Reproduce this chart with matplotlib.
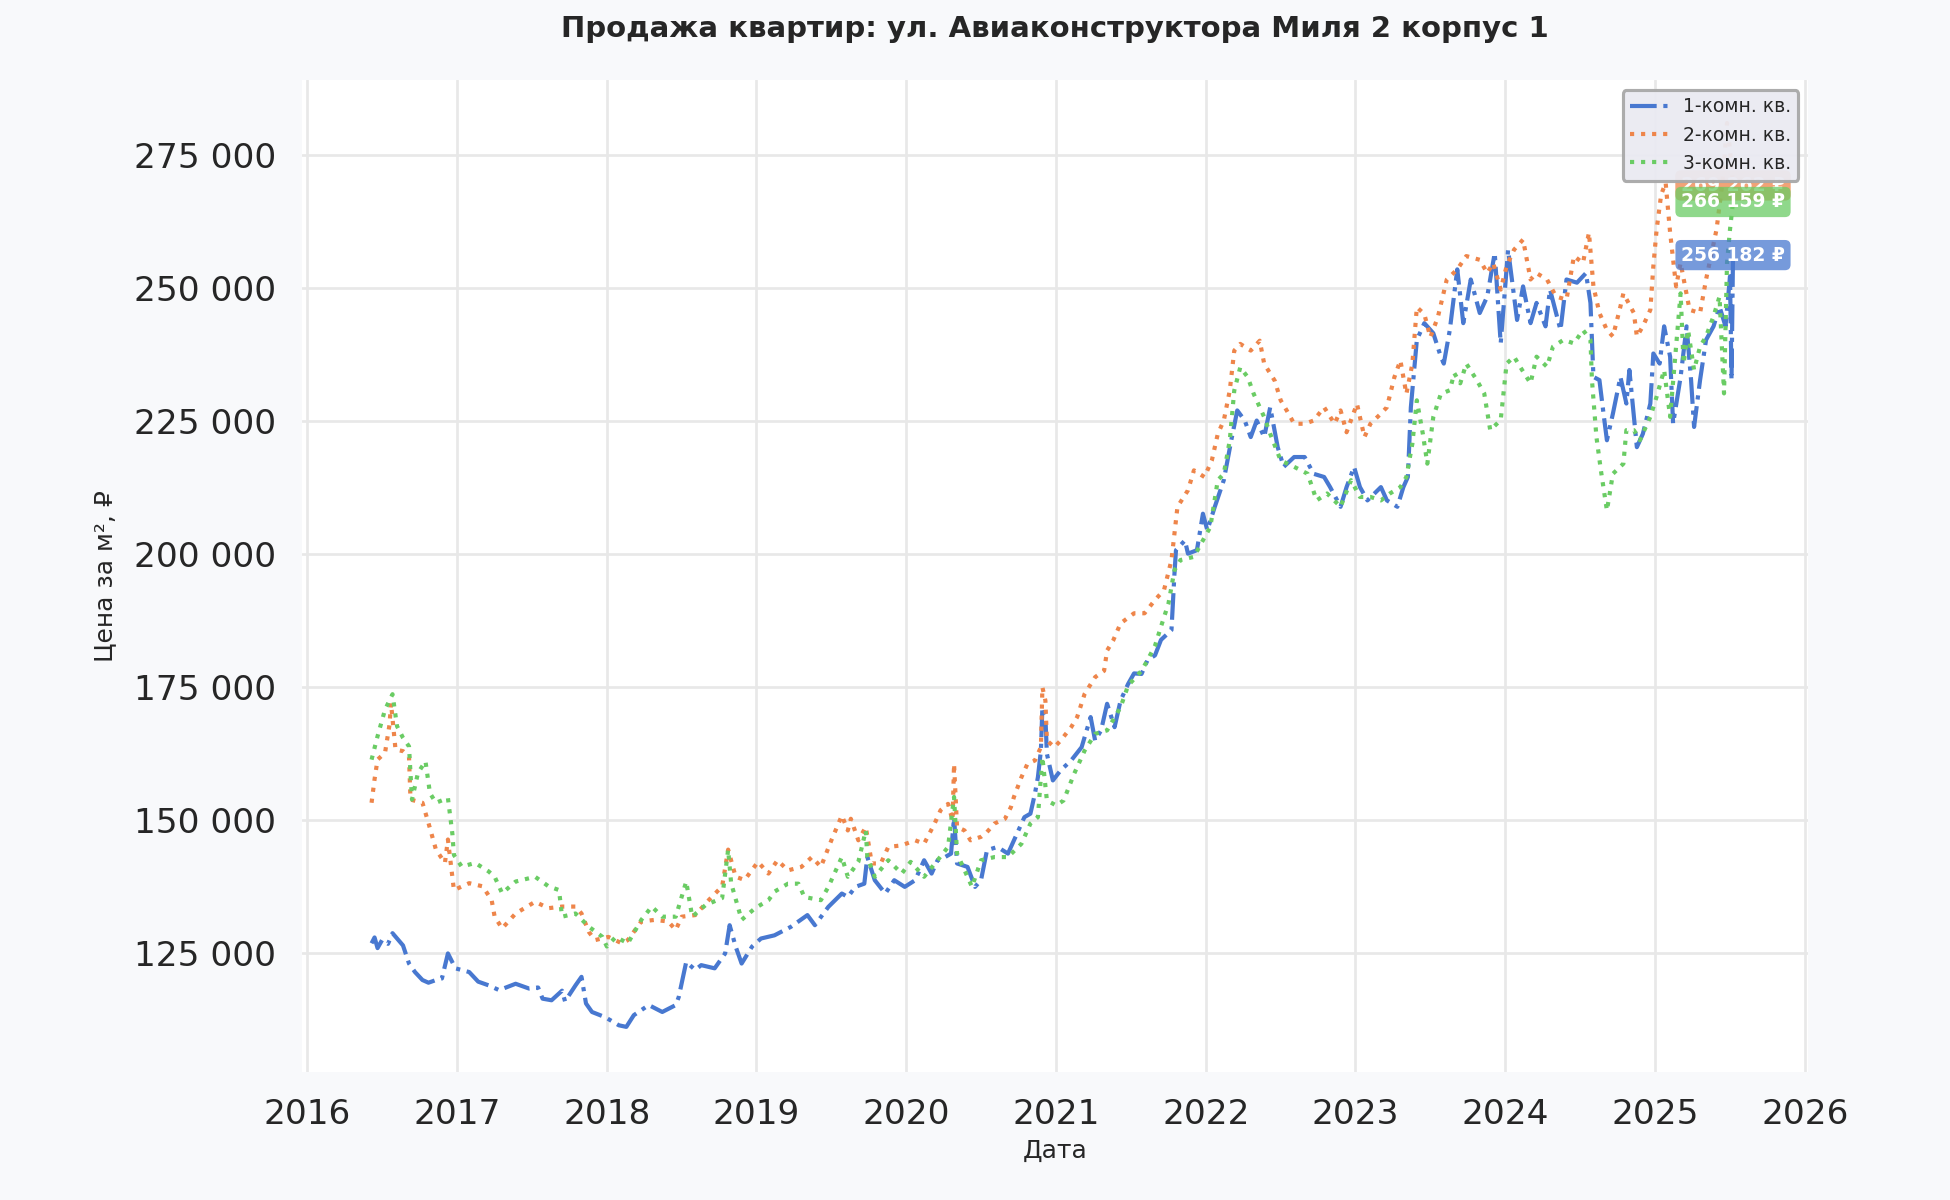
import matplotlib
matplotlib.use("Agg")
import matplotlib.pyplot as plt
import matplotlib.dates as mdates
from matplotlib.ticker import FuncFormatter, MultipleLocator
import pandas as pd
import seaborn as sns

# Даты в виде десятичного года, цены за м2 в тысячах рублей
years_1k = [
    2016.43, 2016.45, 2016.47, 2016.50, 2016.54, 2016.57, 2016.61, 2016.64, 2016.68, 2016.72,
    2016.77, 2016.81, 2016.86, 2016.90, 2016.94, 2016.99, 2017.08, 2017.14, 2017.21, 2017.28,
    2017.39, 2017.48, 2017.54, 2017.57, 2017.63, 2017.70, 2017.72, 2017.79, 2017.83, 2017.86,
    2017.90, 2017.99, 2018.08, 2018.13, 2018.18, 2018.28, 2018.37, 2018.46, 2018.48, 2018.53,
    2018.59, 2018.63, 2018.72, 2018.79, 2018.82, 2018.86, 2018.90, 2018.97, 2019.03, 2019.12,
    2019.23, 2019.34, 2019.39, 2019.48, 2019.57, 2019.61, 2019.66, 2019.72, 2019.74, 2019.79,
    2019.86, 2019.92, 2019.99, 2020.06, 2020.12, 2020.17, 2020.21, 2020.26, 2020.30, 2020.32,
    2020.34, 2020.41, 2020.46, 2020.50, 2020.54, 2020.61, 2020.68, 2020.74, 2020.79, 2020.83,
    2020.86, 2020.88, 2020.90, 2020.91, 2020.93, 2020.94, 2020.98, 2021.03, 2021.10, 2021.17,
    2021.23, 2021.26, 2021.30, 2021.34, 2021.39, 2021.43, 2021.48, 2021.52, 2021.57, 2021.61,
    2021.66, 2021.70, 2021.77, 2021.79, 2021.80, 2021.86, 2021.88, 2021.94, 2021.98, 2022.01,
    2022.06, 2022.12, 2022.17, 2022.21, 2022.26, 2022.30, 2022.34, 2022.39, 2022.43, 2022.48,
    2022.52, 2022.59, 2022.66, 2022.72, 2022.79, 2022.83, 2022.90, 2022.94, 2022.99, 2023.03,
    2023.08, 2023.17, 2023.21, 2023.28, 2023.32, 2023.35, 2023.37, 2023.41, 2023.46, 2023.52,
    2023.57, 2023.59, 2023.63, 2023.68, 2023.72, 2023.77, 2023.83, 2023.88, 2023.93, 2023.97,
    2024.02, 2024.08, 2024.12, 2024.17, 2024.21, 2024.27, 2024.30, 2024.37, 2024.41, 2024.48,
    2024.54, 2024.57, 2024.59, 2024.63, 2024.66, 2024.68, 2024.72, 2024.77, 2024.81, 2024.83,
    2024.88, 2024.92, 2024.97, 2024.99, 2025.03, 2025.06, 2025.10, 2025.12, 2025.17, 2025.21,
    2025.24, 2025.26, 2025.30, 2025.34, 2025.39, 2025.43, 2025.47, 2025.50, 2025.51, 2025.52,
]
price_1k = [
    126.9, 128.0, 126.0, 127.5, 126.8, 128.8, 127.5, 126.5, 123.1, 121.5,
    120.0, 119.5, 120.0, 120.3, 125.0, 122.2, 121.5, 119.7, 119.0, 118.1,
    119.3, 118.4, 118.6, 116.5, 116.2, 118.0, 116.0, 119.0, 120.6, 115.6,
    114.0, 113.0, 111.5, 111.2, 113.4, 115.3, 114.0, 115.3, 116.8, 123.4,
    121.9, 122.8, 122.2, 125.0, 130.3, 126.3, 123.1, 126.3, 127.8, 128.4,
    130.0, 132.2, 130.3, 133.75, 136.25, 135.6, 137.5, 138.1, 143.1, 138.75,
    136.25, 138.75, 137.5, 138.75, 142.5, 140.0, 142.5, 143.1, 143.75, 150.6,
    141.9, 141.25, 137.5, 138.75, 144.4, 145.0, 143.75, 147.5, 150.6, 151.25,
    155.0, 158.1, 163.1, 171.25, 169.4, 162.5, 157.5, 159.4, 161.25, 163.75,
    169.4, 165.0, 166.9, 171.9, 167.5, 172.5, 175.6, 177.6, 177.5, 180.1,
    181.0, 183.9, 185.75, 196.4, 200.75, 202.6, 200.1, 200.75, 207.6, 204.5,
    208.9, 213.9, 221.4, 227.0, 225.1, 222.0, 225.1, 222.0, 227.6, 220.1,
    216.4, 218.25, 218.25, 215.1, 214.5, 212.6, 208.9, 212.6, 216.4, 212.6,
    210.1, 212.6, 210.1, 208.9, 212.6, 214.5, 227.6, 240.25, 243.4, 241.5,
    237.1, 235.8, 242.1, 253.5, 243.4, 251.6, 245.3, 248.4, 256.6, 239.6,
    257.2, 244.0, 250.3, 243.4, 247.2, 242.8, 249.7, 242.1, 251.6, 251.0,
    252.8, 247.2, 233.3, 232.7, 225.8, 221.4, 226.4, 233.3, 228.3, 234.6,
    220.1, 222.6, 228.3, 237.7, 235.8, 242.8, 237.1, 224.5, 233.3, 242.8,
    232.7, 223.9, 232.7, 240.25, 242.8, 246.5, 242.8, 252.2, 232.7, 256.182,
]

years_2k = [
    2016.43, 2016.45, 2016.47, 2016.52, 2016.55, 2016.56, 2016.59, 2016.64, 2016.68, 2016.69,
    2016.77, 2016.81, 2016.86, 2016.92, 2016.94, 2016.98, 2017.08, 2017.17, 2017.23, 2017.25,
    2017.30, 2017.39, 2017.52, 2017.61, 2017.70, 2017.79, 2017.83, 2017.88, 2017.92, 2018.01,
    2018.10, 2018.14, 2018.23, 2018.32, 2018.41, 2018.46, 2018.50, 2018.59, 2018.68, 2018.77,
    2018.81, 2018.86, 2018.92, 2019.01, 2019.08, 2019.14, 2019.21, 2019.30, 2019.37, 2019.43,
    2019.50, 2019.57, 2019.61, 2019.63, 2019.68, 2019.73, 2019.77, 2019.83, 2019.88, 2019.97,
    2020.06, 2020.12, 2020.19, 2020.23, 2020.28, 2020.31, 2020.32, 2020.34, 2020.39, 2020.43,
    2020.50, 2020.54, 2020.59, 2020.66, 2020.70, 2020.72, 2020.77, 2020.81, 2020.86, 2020.90,
    2020.91, 2020.93, 2020.94, 2020.99, 2021.03, 2021.10, 2021.14, 2021.19, 2021.26, 2021.32,
    2021.34, 2021.38, 2021.43, 2021.52, 2021.59, 2021.66, 2021.72, 2021.77, 2021.81, 2021.88,
    2021.92, 2021.99, 2022.04, 2022.08, 2022.12, 2022.16, 2022.19, 2022.23, 2022.30, 2022.36,
    2022.39, 2022.46, 2022.50, 2022.54, 2022.59, 2022.66, 2022.72, 2022.79, 2022.86, 2022.90,
    2022.94, 2023.01, 2023.06, 2023.10, 2023.17, 2023.21, 2023.26, 2023.30, 2023.34, 2023.38,
    2023.41, 2023.46, 2023.50, 2023.55, 2023.61, 2023.68, 2023.74, 2023.83, 2023.88, 2023.92,
    2023.97, 2024.01, 2024.06, 2024.12, 2024.17, 2024.21, 2024.28, 2024.34, 2024.41, 2024.46,
    2024.52, 2024.56, 2024.59, 2024.63, 2024.68, 2024.72, 2024.77, 2024.79, 2024.86, 2024.88,
    2024.92, 2024.97, 2024.99, 2025.01, 2025.04, 2025.07, 2025.10, 2025.14, 2025.17, 2025.23,
    2025.30, 2025.34, 2025.41, 2025.45, 2025.48, 2025.50, 2025.52,
]
price_2k = [
    153.3, 157.7, 161.4, 162.7, 168.0, 172.0, 163.3, 163.0, 162.0, 153.9,
    153.3, 149.5, 144.5, 142.0, 146.4, 136.9, 138.2, 137.6, 135.0, 131.9,
    129.7, 132.5, 134.7, 133.5, 133.8, 133.8, 132.5, 129.0, 127.5, 128.1,
    126.9, 127.5, 131.0, 131.3, 131.0, 129.4, 131.9, 132.2, 135.0, 137.6,
    144.5, 139.4, 138.8, 142.2, 140.0, 142.5, 140.6, 141.25, 143.1, 141.25,
    146.25, 150.9, 148.1, 150.3, 146.25, 148.75, 141.9, 141.9, 145.0, 145.3,
    146.25, 145.6, 149.4, 151.9, 153.1, 150.0, 160.6, 148.75, 148.1, 146.25,
    146.9, 147.8, 149.4, 150.3, 152.5, 154.4, 158.1, 160.6, 161.25, 163.75,
    175.0, 172.5, 165.0, 163.75, 165.0, 167.5, 169.4, 173.75, 176.9, 178.1,
    181.9, 183.75, 187.0, 188.9, 188.9, 191.4, 193.25, 198.9, 208.9, 212.0,
    215.75, 214.5, 217.6, 222.6, 225.1, 230.75, 238.25, 239.5, 238.25, 240.1,
    235.75, 232.6, 228.9, 227.0, 224.5, 224.5, 225.1, 227.6, 224.5, 227.0,
    222.9, 228.25, 222.0, 224.5, 226.4, 227.6, 233.25, 236.4, 230.1, 235.75,
    246.4, 245.1, 240.75, 244.5, 251.6, 253.5, 256.0, 255.3, 252.8, 254.7,
    249.7, 254.1, 257.2, 259.1, 251.6, 252.8, 251.6, 248.4, 247.8, 256.0,
    254.7, 260.4, 250.3, 245.3, 242.1, 240.9, 246.5, 249.0, 245.3, 240.9,
    242.8, 245.9, 254.1, 261.0, 267.5, 269.8, 260.4, 250.3, 254.7, 245.9,
    245.3, 251.6, 261.0, 270.0, 281.0, 276.0, 269.262,
]

years_3k = [
    2016.43, 2016.47, 2016.52, 2016.57, 2016.60, 2016.64, 2016.68, 2016.70, 2016.74, 2016.79,
    2016.82, 2016.86, 2016.94, 2016.97, 2016.98, 2017.03, 2017.12, 2017.21, 2017.25, 2017.30,
    2017.39, 2017.52, 2017.61, 2017.68, 2017.70, 2017.79, 2017.88, 2017.97, 2018.00, 2018.06,
    2018.14, 2018.23, 2018.30, 2018.37, 2018.46, 2018.53, 2018.57, 2018.66, 2018.77, 2018.81,
    2018.83, 2018.90, 2018.99, 2019.08, 2019.12, 2019.21, 2019.28, 2019.32, 2019.43, 2019.48,
    2019.57, 2019.61, 2019.68, 2019.73, 2019.74, 2019.79, 2019.88, 2019.97, 2020.03, 2020.12,
    2020.21, 2020.28, 2020.32, 2020.34, 2020.39, 2020.44, 2020.50, 2020.59, 2020.68, 2020.77,
    2020.83, 2020.88, 2020.91, 2020.94, 2021.00, 2021.05, 2021.12, 2021.19, 2021.26, 2021.34,
    2021.43, 2021.48, 2021.57, 2021.61, 2021.66, 2021.70, 2021.75, 2021.79, 2021.83, 2021.92,
    2021.98, 2022.03, 2022.08, 2022.12, 2022.16, 2022.19, 2022.23, 2022.28, 2022.32, 2022.39,
    2022.43, 2022.50, 2022.59, 2022.68, 2022.74, 2022.81, 2022.90, 2022.97, 2023.03, 2023.10,
    2023.17, 2023.23, 2023.30, 2023.34, 2023.38, 2023.41, 2023.45, 2023.48, 2023.52, 2023.57,
    2023.63, 2023.66, 2023.70, 2023.74, 2023.81, 2023.86, 2023.90, 2023.97, 2024.01, 2024.06,
    2024.10, 2024.17, 2024.21, 2024.28, 2024.32, 2024.39, 2024.46, 2024.52, 2024.57, 2024.58,
    2024.61, 2024.64, 2024.68, 2024.72, 2024.79, 2024.81, 2024.86, 2024.90, 2024.97, 2025.01,
    2025.06, 2025.10, 2025.14, 2025.17, 2025.19, 2025.22, 2025.26, 2025.30, 2025.34, 2025.39,
    2025.43, 2025.46, 2025.48, 2025.50, 2025.52,
]
price_3k = [
    161.4, 165.8, 170.8, 173.7, 167.7, 165.5, 163.9, 153.9, 158.9, 161.1,
    155.1, 153.3, 154.2, 147.4, 143.5, 141.3, 142.0, 140.4, 139.4, 136.3,
    138.5, 139.4, 137.6, 136.9, 131.9, 132.5, 130.0, 128.1, 126.3, 128.1,
    126.9, 131.3, 133.8, 131.9, 131.9, 138.5, 131.9, 134.1, 135.4, 144.5,
    138.2, 131.3, 133.5, 135.0, 136.6, 138.1, 138.1, 135.6, 135.0, 137.5,
    143.1, 139.4, 142.2, 148.1, 143.1, 139.4, 142.5, 140.0, 142.2, 139.4,
    142.5, 145.0, 154.4, 143.75, 140.6, 137.5, 142.5, 143.1, 143.1, 145.6,
    149.4, 150.6, 161.9, 153.75, 152.8, 153.75, 158.75, 163.1, 166.25, 166.9,
    171.25, 175.3, 178.1, 180.1, 182.8, 186.4, 190.75, 197.0, 198.9, 199.5,
    202.6, 205.1, 213.9, 215.1, 221.4, 230.75, 235.1, 233.25, 230.1, 225.75,
    222.6, 217.6, 216.4, 215.1, 210.1, 211.4, 208.9, 213.9, 210.75, 210.75,
    210.1, 211.4, 212.6, 214.5, 220.75, 228.9, 222.6, 217.0, 225.8, 230.1,
    230.8, 234.0, 232.1, 235.8, 232.7, 230.2, 223.3, 225.2, 235.8, 237.1,
    235.2, 232.1, 237.1, 235.2, 239.0, 240.25, 239.6, 242.1, 240.25, 232.7,
    222.0, 215.7, 208.2, 215.1, 217.0, 223.3, 223.3, 221.4, 225.8, 229.6,
    234.6, 225.8, 239.0, 249.0, 235.8, 242.1, 234.6, 239.0, 240.9, 244.7,
    248.4, 230.2, 254.7, 261.0, 266.159,
]

series_names = ["1-комн. кв.", "2-комн. кв.", "3-комн. кв."]
series_styles = ["-.", ":", ":"]

TITLE = "Продажа квартир: ул. Авиаконструктора Миля 2 корпус 1"


def to_dates(years):
    """Десятичный год -> Timestamp."""
    out = []
    for y in years:
        base = pd.Timestamp(year=int(y), month=1, day=1)
        out.append(base + pd.Timedelta(days=(y - int(y)) * 365.25))
    return out


def fmt_rub(v, pos=None):
    return f"{v:,.0f}".replace(",", " ")


sns.set_theme(style="whitegrid", context="talk", palette="muted")
plt.rcParams["font.family"] = ["DejaVu Sans"]
colors = sns.color_palette("muted")

fig = plt.figure(figsize=(13, 8), dpi=150, facecolor="#f8f9fb")
ax = fig.add_axes([0.155, 0.107, 0.772, 0.826])
ax.set_facecolor("white")

data = [(years_1k, price_1k), (years_2k, price_2k), (years_3k, price_3k)]
for i, (yrs, vals) in enumerate(data):
    ax.plot(to_dates(yrs), [v * 1000 for v in vals], linestyle=series_styles[i],
            color=colors[i], lw=2.0, label=series_names[i])

# подписи последних значений
for i, (yrs, vals) in enumerate(data):
    last_x = to_dates(yrs)[-1]
    last_v = vals[-1] * 1000
    ax.text(last_x, last_v, f"{fmt_rub(last_v)} ₽", ha="center", va="center",
            fontsize=9, fontweight="bold", color="white",
            bbox=dict(boxstyle="round,pad=0.3", fc=colors[i], ec="none", alpha=0.75))

ax.set_xlim(pd.Timestamp("2015-12-20"), pd.Timestamp("2026-01-08"))
ax.set_ylim(102800, 289000)
ax.xaxis.set_major_locator(mdates.YearLocator())
ax.xaxis.set_major_formatter(mdates.DateFormatter("%Y"))
ax.yaxis.set_major_locator(MultipleLocator(25000))
ax.yaxis.set_major_formatter(FuncFormatter(fmt_rub))
ax.tick_params(labelsize=16.5, colors="#262626")

ax.grid(True, color="#e8e8e8", lw=1.3)
for s in ax.spines.values():
    s.set_visible(False)

ax.set_xlabel("Дата", fontsize=12, color="#262626", labelpad=4)
ax.set_ylabel("Цена за м², ₽", fontsize=12, color="#262626", labelpad=8)
ax.set_title(TITLE, fontsize=14, fontweight="bold", color="#262626", pad=21)

leg = ax.legend(loc="upper right", fontsize=9, frameon=True, fancybox=True,
                facecolor="#eaeaf2", edgecolor="#a8a8a8", framealpha=0.95)
leg.get_frame().set_linewidth(1.5)

fig.savefig("out.png", dpi=150, facecolor=fig.get_facecolor())
